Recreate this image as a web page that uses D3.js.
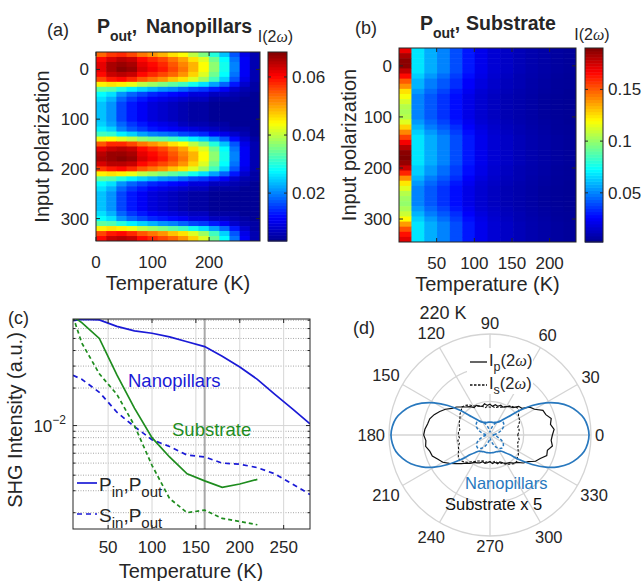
<!DOCTYPE html>
<html>
<head>
<meta charset="utf-8">
<script src="https://cdn.jsdelivr.net/npm/d3@7/dist/d3.min.js"></script>
<style>
  body { margin: 0; background: #fff; }
  text { font-family: "Liberation Sans", Arial, Helvetica, sans-serif; fill: #262626; }
</style>
</head>
<body>
<svg id="fig" width="643" height="581"></svg>
<script>
/* globals d3 */

// ---- (a) nanopillars, P_out : I(2w) x 1e-3, rows = input polarization, cols = temperature
var tempA = [9, 27, 45, 63, 82, 100, 118, 136, 154, 172, 190, 209, 227, 245, 263, 281];
var polIn = d3.range(-30, 341, 10);
var heatA = [
  [54,57,58,56,53,51,49,46,44,40,36,30,24,17,10,6],
  [60,63,65,64,60,58,56,53,50,46,42,35,28,19,11,6],
  [62,66,67,66,62,60,58,55,52,49,44,37,29,20,11,6],
  [62,66,68,67,63,61,59,56,53,49,44,37,29,20,11,6],
  [60,64,65,64,60,58,56,54,51,47,42,35,28,19,11,6],
  [56,59,60,58,55,53,51,48,46,42,38,32,25,17,10,6],
  [45,46,45,43,40,38,36,34,32,29,26,22,18,13,8,5],
  [34,33,30,27,25,23,21,20,18,16,15,13,11,8,6,5],
  [28,26,21,18,16,14,13,12,11,9,9,7,7,6,5,4],
  [26,23,18,15,13,11,10,9,8,7,7,5,5,5,4,4],
  [24,21,16,13,11,9,8,7,6,5,5,4,4,4,4,4],
  [24,21,16,13,11,9,8,7,6,5,5,4,4,4,4,4],
  [24,21,16,13,11,9,8,7,6,5,5,4,4,4,4,4],
  [24,21,16,13,11,9,8,7,6,5,5,4,4,4,4,4],
  [25,22,18,15,13,11,10,9,7,6,6,5,5,4,4,4],
  [27,25,20,17,15,13,12,11,10,9,8,7,6,5,5,4],
  [32,31,27,25,22,20,19,18,16,15,14,11,10,8,6,4],
  [43,44,42,40,37,35,34,32,30,27,25,21,17,12,8,5],
  [55,58,58,56,53,51,49,46,44,40,36,30,24,17,10,6],
  [62,64,65,64,60,58,56,53,50,46,42,35,28,19,11,6],
  [65,67,67,66,62,60,58,55,52,49,44,37,29,20,11,6],
  [66,67,68,67,63,61,59,56,53,49,44,37,29,20,11,6],
  [63,65,65,64,60,58,56,54,51,47,42,35,28,19,11,6],
  [57,59,60,58,55,53,51,48,46,42,38,32,25,17,10,6],
  [45,46,45,43,40,38,36,34,32,29,26,22,18,13,8,5],
  [34,33,30,27,25,23,21,20,18,16,15,13,11,8,6,5],
  [28,26,21,18,16,14,13,12,11,9,9,7,7,6,5,4],
  [26,23,18,15,13,11,10,9,8,7,7,5,5,5,4,4],
  [24,21,16,13,11,9,8,7,6,5,5,4,4,4,4,4],
  [24,21,16,13,11,9,8,7,6,5,5,4,4,4,4,4],
  [24,21,16,13,11,9,8,7,6,5,5,4,4,4,4,4],
  [24,21,16,13,11,9,8,7,6,5,5,4,4,4,4,4],
  [26,23,18,15,13,11,10,9,8,7,7,5,5,5,4,4],
  [28,26,21,18,16,14,13,12,11,9,9,7,7,6,5,4],
  [34,33,30,27,25,23,21,20,18,16,15,13,11,8,6,5],
  [45,46,45,43,40,38,36,34,32,29,26,22,18,13,8,5],
  [56,59,60,58,55,53,51,48,46,42,38,32,25,17,10,6],
  [60,64,65,64,60,58,56,54,51,47,42,35,28,19,11,6]
];
var ticksA = [0.02, 0.04, 0.06];

// ---- (b) substrate, P_out : I(2w) x 1e-3
var tempB = [8, 25, 42, 59, 76, 92, 109, 126, 143, 160, 176, 193, 210, 227];
var heatB = [
  [170,68,58,50,40,30,22,17,14,11,9,7.5,6,5],
  [182,68,58,50,40,30,22,17,14,11,9,7.5,6,5],
  [188,68,58,50,40,30,22,17,14,11,9,7.5,6,5],
  [188,68,58,50,40,30,22,17,14,11,9,7.5,6,5],
  [178,68,58,50,40,30,22,17,14,11,9,7.5,6,5],
  [165,64,54,46,37,28,21,16,13,10,8.5,7,5.5,4.5],
  [150,59,49,42,34,25,19,15,12,10,8,6.5,5,4.5],
  [140,59,49,42,34,25,19,15,12,10,8,6.5,5,4.5],
  [125,54,45,38,30,23,17,14,11,9,7.5,6,5,4],
  [118,50,42,35,28,21,16,13,10,8.5,7,5.5,4.5,4],
  [112,50,42,35,28,21,16,13,10,8.5,7,5.5,4.5,4],
  [106,50,42,35,28,21,16,13,10,8.5,7,5.5,4.5,4],
  [104,50,42,35,28,21,16,13,10,8.5,7,5.5,4.5,4],
  [106,50,42,35,28,21,16,13,10,8.5,7,5.5,4.5,4],
  [114,54,45,38,30,23,17,14,11,9,7.5,6,5,4],
  [128,59,49,42,34,25,19,15,12,10,8,6.5,5,4.5],
  [142,64,54,46,37,28,21,16,13,10,8.5,7,5.5,4.5],
  [155,68,58,50,40,30,22,17,14,11,9,7.5,6,5],
  [168,68,58,50,40,30,22,17,14,11,9,7.5,6,5],
  [180,68,58,50,40,30,22,17,14,11,9,7.5,6,5],
  [188,68,58,50,40,30,22,17,14,11,9,7.5,6,5],
  [190,68,58,50,40,30,22,17,14,11,9,7.5,6,5],
  [186,68,58,50,40,30,22,17,14,11,9,7.5,6,5],
  [176,64,54,46,37,28,21,16,13,10,8.5,7,5.5,4.5],
  [160,64,54,46,37,28,21,16,13,10,8.5,7,5.5,4.5],
  [140,59,49,42,34,25,19,15,12,10,8,6.5,5,4.5],
  [124,54,45,38,30,23,17,14,11,9,7.5,6,5,4],
  [114,50,42,35,28,21,16,13,10,8.5,7,5.5,4.5,4],
  [106,50,42,35,28,21,16,13,10,8.5,7,5.5,4.5,4],
  [102,50,42,35,28,21,16,13,10,8.5,7,5.5,4.5,4],
  [100,50,42,35,28,21,16,13,10,8.5,7,5.5,4.5,4],
  [104,54,45,38,30,23,17,14,11,9,7.5,6,5,4],
  [110,59,49,42,34,25,19,15,12,10,8,6.5,5,4.5],
  [120,64,54,46,37,28,21,16,13,10,8.5,7,5.5,4.5],
  [138,68,58,50,40,30,22,17,14,11,9,7.5,6,5],
  [152,68,58,50,40,30,22,17,14,11,9,7.5,6,5],
  [164,68,58,50,40,30,22,17,14,11,9,7.5,6,5],
  [172,68,58,50,40,30,22,17,14,11,9,7.5,6,5]
];
var ticksB = [0.05, 0.1, 0.15];

// ---- (c) SHG intensity vs temperature
var tempC = [10, 20, 40, 60, 80, 100, 120, 140, 160, 180, 200, 220, 240, 260, 280];
var nanoPP = [0.0695, 0.0712, 0.0705, 0.0625, 0.0575, 0.0550, 0.0515, 0.0470, 0.0430, 0.0360, 0.0295, 0.0235, 0.0178, 0.0136, 0.0103];
var nanoSP = [0.0253, 0.0235, 0.0185, 0.0128, 0.0098, 0.0077, 0.0068, 0.0058, 0.0056, 0.0050, 0.0049, 0.0046, 0.0041, 0.0034, 0.0028];
var tempSub = [10, 20, 40, 60, 80, 100, 120, 140, 160, 180, 200, 220];
var subPP = [0.075, 0.067, 0.050, 0.0255, 0.0138, 0.0080, 0.0056, 0.0041, 0.0036, 0.0032, 0.0034, 0.0037];
var subSP = [0.075, 0.046, 0.026, 0.0178, 0.0100, 0.0048, 0.0026, 0.0020, 0.0021, 0.0018, 0.0017, 0.0016];
var markT = 160;

// ---- (d) polar plot at 220 K, output angle 0..355 step 5
var polAng = d3.range(0, 360, 5);
var nanoP220 = [100,99,96.5,91.5,85,76,65,52,38,26,20,16.5,15,14,13.5,13,13,13,
  13,13,13,13,13.5,14,15,16.5,20,26,38,52,65,76,85,91.5,96.5,99,
  100,99,96.5,91.5,85,76,65,52,39,28,23,20,19,18.5,18,18,18,18,
  18,18,18,18,18,18.5,19,20,23,28,39,52,65,76,85,91.5,96.5,99];
var nanoS220 = [3,4,6,8.5,11,13.5,15.5,17,18,18.5,18,17,15.5,13.5,11,8.5,6,4,
  3,4,6,8.5,11,13.5,15.5,17,18,18.5,18,17,15.5,13.5,11,8.5,6,4,
  3,4,6,8,10.5,13,15,16.5,17.5,18,17.5,16.5,15,13,10.5,8,6,4,
  3,4,6,8,10.5,13,15,16.5,17.5,18,17.5,16.5,15,13,10.5,8,6,4];
var subP220 = [63,65,62,64,60,59,52,49,42,41,36,35,33,31,32,30,31,29,
  31,30,32,30,31,33,32,35,37,40,44,47,52,56,60,63,64,66,
  67,65,66,63,62,58,55,50,45,41,37,35,32,31,30,28,29,28,
  27,29,28,30,29,31,33,34,37,39,44,47,53,56,61,60,64,62];
var subS220 = [28,29,30,29,31,33,34,35,38,39,37,36,33,31,30,29,28,29,
  28,29,28,30,31,32,34,37,39,40,38,37,35,34,33,32,31,32,
  32,31,33,32,34,35,37,39,40,38,36,33,31,29,28,27,28,27,
  27,28,27,29,30,32,34,36,38,38,36,35,33,31,30,29,30,29];
var ringVals = [34, 68, 102];
var spokeAng = d3.range(0, 360, 30);

var svg = d3.select("#fig");
svg.append("rect").attr("width", 643).attr("height", 581).attr("fill", "#fff");

var jet = d3.scaleLinear()
  .domain([0, 0.125, 0.375, 0.625, 0.875, 1])
  .range(["#00008f", "#0000ff", "#00ffff", "#ffff00", "#ff0000", "#800000"])
  .clamp(true);

function txt(g, x, y, s, size, anchor) {
  return g.append("text")
    .attr("x", x).attr("y", y)
    .attr("font-size", size)
    .attr("text-anchor", anchor || "start")
    .text(s);
}

function tick(g, x1, y1, x2, y2) {
  g.append("line").attr("x1", x1).attr("y1", y1).attr("x2", x2).attr("y2", y2)
    .attr("stroke", "#262626").attr("stroke-width", 1);
}

function i2w(g, x, y) {
  var t = txt(g, x, y, "I(2", 16, "middle");
  t.append("tspan").attr("font-style", "italic").attr("font-family", "Liberation Serif, serif").text("\u03c9");
  t.append("tspan").text(")");
}

function heatPanel(o) {
  var g = svg.append("g");
  var x = d3.scaleLinear().domain(o.xDom).range([o.left, o.right]);
  var y = d3.scaleLinear().domain([-35, 345]).range([o.top, o.bottom]);
  var cn = d3.scaleLinear().domain(o.cDom).range([0, 1]);
  var edges = [o.xDom[0]];
  for (var j = 1; j < o.temps.length; j++) edges.push((o.temps[j - 1] + o.temps[j]) / 2);
  edges.push(o.xDom[1]);

  var clipId = "clip" + o.left;
  svg.append("clipPath").attr("id", clipId).append("rect")
    .attr("x", o.left).attr("y", o.top).attr("width", o.right - o.left).attr("height", o.bottom - o.top);
  var cells = g.append("g").attr("clip-path", "url(#" + clipId + ")");
  o.matrix.forEach(function(row, i) {
    row.forEach(function(v, k) {
      cells.append("rect")
        .attr("x", x(edges[k]))
        .attr("y", y(polIn[i] - 5))
        .attr("width", x(edges[k + 1]) - x(edges[k]) + 0.6)
        .attr("height", y(polIn[i] + 5) - y(polIn[i] - 5) + 0.6)
        .attr("fill", jet(cn(v / 1000)));
    });
  });
  g.append("rect").attr("x", o.left).attr("y", o.top)
    .attr("width", o.right - o.left).attr("height", o.bottom - o.top)
    .attr("fill", "none").attr("stroke", "#262626");

  o.xTicks.forEach(function(t) {
    tick(g, x(t), o.bottom, x(t), o.bottom - 4);
    tick(g, x(t), o.top, x(t), o.top + 4);
    txt(g, x(t), o.bottom + 27, t, 17, "middle");
  });
  [0, 100, 200, 300].forEach(function(t) {
    tick(g, o.left, y(t), o.left + 4, y(t));
    tick(g, o.right, y(t), o.right - 4, y(t));
    txt(g, o.left - 7, y(t) + 6, t, 17, "end");
  });
  txt(g, (o.left + o.right) / 2, o.bottom + 49, "Temperature (K)", 20, "middle");
  txt(g, 0, 0, "Input polarization", 20, "middle")
    .attr("transform", "translate(" + o.ylabX + "," + (o.top + o.bottom) / 2 + ") rotate(-90)");

  // colorbar
  var cb = d3.scaleLinear().domain(o.cDom).range([o.bottom, o.top]);
  var n = 64, h = (o.bottom - o.top) / n;
  for (var k = 0; k < n; k++) {
    g.append("rect").attr("x", o.cbX).attr("y", o.bottom - (k + 1) * h)
      .attr("width", o.cbW).attr("height", h + 0.5)
      .attr("fill", jet((k + 0.5) / n));
  }
  g.append("rect").attr("x", o.cbX).attr("y", o.top).attr("width", o.cbW)
    .attr("height", o.bottom - o.top).attr("fill", "none").attr("stroke", "#262626");
  o.cTicks.forEach(function(t) {
    tick(g, o.cbX + o.cbW, cb(t), o.cbX + o.cbW - 3, cb(t));
    tick(g, o.cbX, cb(t), o.cbX + 3, cb(t));
    txt(g, o.cbX + o.cbW + 5, cb(t) + 6, String(t), 17, "start");
  });
  i2w(g, o.cbX + o.cbW / 2 - 2, o.cbTitleY);
  return g;
}

// ---------- (a)
var ga = heatPanel({
  left: 96, right: 260, top: 52, bottom: 241, xDom: [0, 290],
  temps: tempA, matrix: heatA, cDom: [0.0035, 0.0686],
  cbX: 268, cbW: 19, cTicks: ticksA, cbTitleY: 42,
  xTicks: [0, 100, 200], ylabX: 49
});
txt(ga, 47, 36, "(a)", 18);
var ta = txt(ga, 97, 33, "P", 19.5).attr("font-weight", "bold");
ta.append("tspan").attr("font-size", 14).attr("dy", 8).text("out");
ta.append("tspan").attr("dy", -8).text(",");
txt(ga, 146, 33, "Nanopillars", 19.5).attr("font-weight", "bold");

// ---------- (b)
var gb = heatPanel({
  left: 399, right: 576, top: 48, bottom: 242, xDom: [0, 235],
  temps: tempB, matrix: heatB, cDom: [0.0025, 0.19],
  cbX: 585, cbW: 18, cTicks: ticksB, cbTitleY: 40,
  xTicks: [50, 100, 150, 200], ylabX: 356
});
txt(gb, 355, 34, "(b)", 18);
var tb = txt(gb, 420, 30, "P", 19.5).attr("font-weight", "bold");
tb.append("tspan").attr("font-size", 14).attr("dy", 8).text("out");
tb.append("tspan").attr("dy", -8).text(",");
txt(gb, 466, 30, "Substrate", 19.5).attr("font-weight", "bold");

// ---------- (c)
var gc = svg.append("g");
var cL = 73, cR = 310, cT = 319, cB = 529;
var cX = d3.scaleLinear().domain([10, 280]).range([cL, cR]);
var cY = d3.scaleLog().domain([0.00148, 0.0716]).range([cB, cT]);
var minorY = [0.002, 0.003, 0.004, 0.005, 0.006, 0.007, 0.008, 0.009, 0.02, 0.03, 0.04, 0.05, 0.06, 0.07];
var xTicksC = [50, 100, 150, 200, 250];

minorY.forEach(function(v) {
  gc.append("line").attr("x1", cL).attr("x2", cR).attr("y1", cY(v)).attr("y2", cY(v))
    .attr("stroke", "#a6a6a6").attr("stroke-width", 1).attr("stroke-dasharray", "1,1.5");
});
gc.append("line").attr("x1", cL).attr("x2", cR).attr("y1", cY(0.01)).attr("y2", cY(0.01))
  .attr("stroke", "#d6d6d6").attr("stroke-width", 1);
xTicksC.forEach(function(t) {
  gc.append("line").attr("x1", cX(t)).attr("x2", cX(t)).attr("y1", cT).attr("y2", cB)
    .attr("stroke", "#d6d6d6").attr("stroke-width", 1);
});
gc.append("line").attr("x1", cX(markT)).attr("x2", cX(markT)).attr("y1", cT).attr("y2", cB)
  .attr("stroke", "#a9a9a9").attr("stroke-width", 2);

svg.append("clipPath").attr("id", "clipC").append("rect")
  .attr("x", cL).attr("y", cT).attr("width", cR - cL).attr("height", cB - cT);
var lines = gc.append("g").attr("clip-path", "url(#clipC)");
var blue = "#1a1ad6", green = "#1e8c1e";
function curveC(ts, vs, color, dash) {
  var line = d3.line().x(function(d, i) { return cX(ts[i]); }).y(function(d) { return cY(d); });
  lines.append("path").attr("d", line(vs)).attr("fill", "none")
    .attr("stroke", color).attr("stroke-width", 1.7)
    .attr("stroke-dasharray", dash || null);
}
curveC(tempC, nanoPP, blue);
curveC(tempC, nanoSP, blue, "5,4");
curveC(tempSub, subPP, green);
curveC(tempSub, subSP, green, "4,3");

gc.append("rect").attr("x", cL).attr("y", cT).attr("width", cR - cL).attr("height", cB - cT)
  .attr("fill", "none").attr("stroke", "#262626");
xTicksC.forEach(function(t) {
  tick(gc, cX(t), cB, cX(t), cB - 4);
  tick(gc, cX(t), cT, cX(t), cT + 4);
  txt(gc, cX(t), 553, t, 17, "middle");
});
tick(gc, cL, cY(0.01), cL + 4, cY(0.01));
tick(gc, cR, cY(0.01), cR - 4, cY(0.01));
minorY.forEach(function(v) {
  tick(gc, cL, cY(v), cL + 2.5, cY(v));
  tick(gc, cR, cY(v), cR - 2.5, cY(v));
});
var lab = txt(gc, 66, cY(0.01) + 6, "10", 17, "end");
lab.append("tspan").attr("font-size", 12).attr("dy", -8).text("\u22122");
txt(gc, 191, 578, "Temperature (K)", 20, "middle");
txt(gc, 0, 0, "SHG Intensity (a.u.)", 20, "middle")
  .attr("transform", "translate(22," + 420 + ") rotate(-90)");
txt(gc, 8, 324, "(c)", 18);
txt(gc, 128, 387, "Nanopillars", 18.5).style("fill", blue);
txt(gc, 172, 436, "Substrate", 18.5).style("fill", green);

// legend (c)
function legC(y, dash, first) {
  gc.append("line").attr("x1", 77).attr("x2", 97).attr("y1", y).attr("y2", y)
    .attr("stroke", blue).attr("stroke-width", 1.7).attr("stroke-dasharray", dash || null);
  var t = txt(gc, 99, y + 8, first, 19);
  t.append("tspan").attr("font-size", 15).attr("dy", 6).text("in");
  t.append("tspan").attr("dy", -6).text(",P");
  t.append("tspan").attr("font-size", 15).attr("dy", 6).text("out");
}
legC(483, null, "P");
legC(514, "5,4", "S");

// ---------- (d)
var gd = svg.append("g").attr("transform", "translate(490,435)");
var pr = d3.scaleLinear().domain([0, 102]).range([0, 101]);
ringVals.forEach(function(r) {
  gd.append("circle").attr("r", pr(r)).attr("fill", "none")
    .attr("stroke", "#d4d4d4").attr("stroke-width", 1.3);
});
spokeAng.forEach(function(a) {
  var rad = a * Math.PI / 180;
  gd.append("line").attr("x1", 0).attr("y1", 0)
    .attr("x2", pr(102) * Math.cos(rad)).attr("y2", -pr(102) * Math.sin(rad))
    .attr("stroke", "#d4d4d4").attr("stroke-width", 1.3);
  var t = txt(gd, 0, 0, String(a), 16.5, "middle").attr("dy", "0.35em");
  var w = t.node().getComputedTextLength();
  var rc = pr(102) + 4 + Math.abs(Math.cos(rad)) * w / 2 + Math.abs(Math.sin(rad)) * 6.5;
  t.attr("x", rc * Math.cos(rad)).attr("y", -rc * Math.sin(rad));
});

var pBlue = "#2878be";
function polar(vals, color, width, dash, curve) {
  var line = d3.lineRadial()
    .angle(function(d, i) { return Math.PI / 2 - polAng[i] * Math.PI / 180; })
    .radius(function(d) { return pr(d); })
    .curve(curve);
  gd.append("path").attr("d", line(vals)).attr("fill", "none")
    .attr("stroke", color).attr("stroke-width", width)
    .attr("stroke-dasharray", dash || null);
}
polar(subP220, "#111", 1.2, null, d3.curveLinearClosed);
polar(subS220, "#111", 1.1, "2.5,1.5", d3.curveLinearClosed);
polar(nanoP220, pBlue, 1.7, null, d3.curveCatmullRomClosed);
polar(nanoS220, pBlue, 1.5, "3,2", d3.curveCatmullRomClosed);

// legend (d)
var gl = svg.append("g");
gl.append("rect").attr("x", 467).attr("y", 348).attr("width", 66).attr("height", 46).attr("fill", "#fff");
function legD(y, sub, dash) {
  gl.append("line").attr("x1", 470).attr("x2", 487).attr("y1", y - 4).attr("y2", y - 4)
    .attr("stroke", "#111").attr("stroke-width", 1.3).attr("stroke-dasharray", dash || null);
  var t = txt(gl, 489, y, "I", 16.5);
  t.append("tspan").attr("font-size", 12.5).attr("dy", 5).text(sub);
  t.append("tspan").attr("dy", -5).text("(2");
  t.append("tspan").attr("font-style", "italic").attr("font-family", "Liberation Serif, serif").text("\u03c9");
  t.append("tspan").text(")");
}
legD(366, "p");
legD(389, "s", "2.5,1.5");

txt(gl, 443, 319, "220 K", 18, "middle");
txt(gl, 353, 334, "(d)", 18);
txt(gl, 465, 489, "Nanopillars", 16.5).style("fill", pBlue);
txt(gl, 445, 510, "Substrate x 5", 16.5).style("fill", "#111");
</script>
</body>
</html>
